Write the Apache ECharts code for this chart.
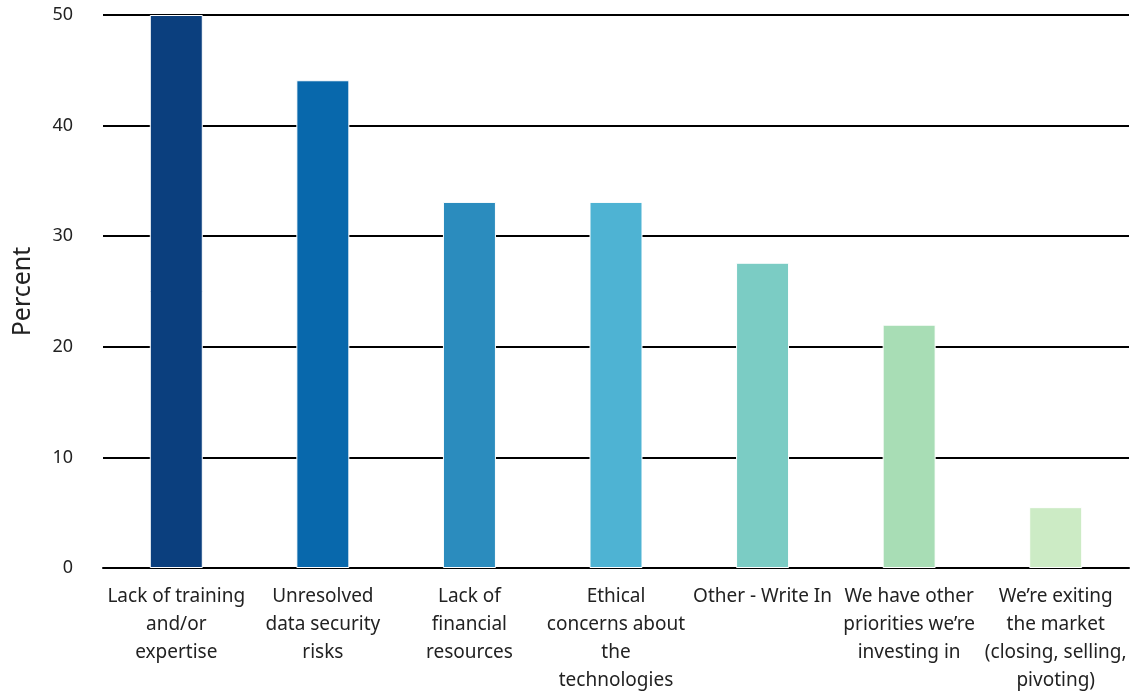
<!DOCTYPE html>
<html><head><meta charset="utf-8">
<script src="https://cdn.jsdelivr.net/npm/echarts@6/dist/echarts.min.js"></script>
<style>html,body{margin:0;padding:0;background:#fff}#c{width:1135px;height:694px}</style>
</head><body><div id="c"></div>
<script>
const categories = [
  "Lack of training\nand/or\nexpertise",
  "Unresolved\ndata security\nrisks",
  "Lack of\nfinancial\nresources",
  "Ethical\nconcerns about\nthe\ntechnologies",
  "Other - Write In",
  "We have other\npriorities we’re\ninvesting in",
  "We’re exiting\nthe market\n(closing, selling,\npivoting)"
];
const values = [50.0, 44.1, 33.1, 33.1, 27.6, 22.0, 5.5];
const colors = ["#0b3f7e", "#0868ac", "#2b8cbe", "#4eb3d3", "#7bccc4", "#a8ddb5", "#ccebc5"];
const yTicks = [0, 10, 20, 30, 40, 50];

const font = "'Noto Sans', sans-serif";
const chart = echarts.init(document.getElementById('c'));
chart.setOption({
  animation: false,
  grid: {left: 103, right: 6, top: 15, bottom: 126, outerBoundsMode: 'none', containLabel: false},
  xAxis: {
    type: 'category', data: categories,
    axisTick: {show: false},
    axisLine: {show: true, lineStyle: {color: '#000', width: 2}},
    axisLabel: {color: '#222', fontSize: 19, fontFamily: font, lineHeight: 28, margin: 15, interval: 0}
  },
  yAxis: {
    type: 'value', min: yTicks[0], max: yTicks[yTicks.length - 1], interval: 10,
    name: 'Percent', nameLocation: 'middle', nameGap: 68, nameRotate: 90,
    nameTextStyle: {color: '#222', fontSize: 25, fontFamily: font},
    axisLine: {show: false}, axisTick: {show: false},
    axisLabel: {color: '#222', fontSize: 18, fontFamily: font, margin: 30},
    splitLine: {lineStyle: {color: '#000', width: 2}}
  },
  series: [{
    type: 'bar', barWidth: 53,
    data: values.map((v, i) => ({value: v, itemStyle: {color: colors[i], borderColor: '#fff', borderWidth: 1}})),
    z: 3
  }]
});
</script></body></html>
